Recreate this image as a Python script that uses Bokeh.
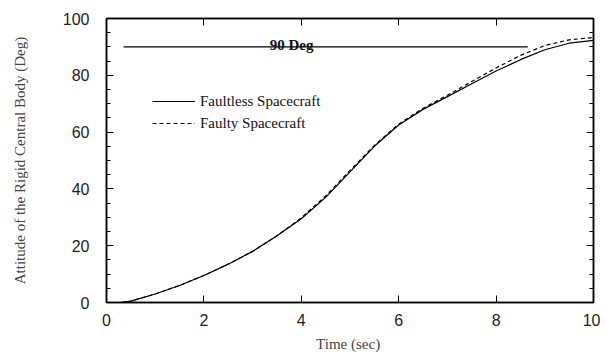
from bokeh.plotting import figure
from bokeh.models import (LinearAxis, FixedTicker, Range1d, Legend, LegendItem, Label)
from bokeh.embed import file_html
from bokeh.resources import INLINE

# Data
t_faultless = [0.3, 0.5, 1.0, 1.5, 2.0, 2.5, 3.0, 3.5, 4.0, 4.5, 5.0, 5.5, 6.0, 6.5, 7.0, 7.5, 8.0, 8.5, 9.0, 9.5, 10.0]
y_faultless = [0.0, 0.5, 3.0, 6.0, 9.5, 13.5, 18.0, 23.5, 29.5, 37.0, 46.0, 55.0, 62.5, 68.0, 72.5, 77.0, 81.5, 85.5, 89.0, 91.3, 92.3]
t_faulty = [0.3, 0.5, 1.0, 1.5, 2.0, 2.5, 3.0, 3.5, 4.0, 4.5, 5.0, 5.5, 6.0, 6.5, 7.0, 7.5, 8.0, 8.5, 9.0, 9.5, 10.0]
y_faulty = [0.0, 0.5, 3.0, 6.0, 9.5, 13.5, 18.0, 23.5, 29.8, 37.5, 46.5, 55.3, 62.8, 68.4, 73.0, 77.8, 82.6, 87.0, 90.5, 92.5, 93.3]
ref_x = [0.35, 8.65]
ref_y = [90, 90]
ref_label = "90 Deg"
x_ticks = [0, 2, 4, 6, 8, 10]
y_ticks = [0, 20, 40, 60, 80, 100]
y_minor = [5, 10, 15, 25, 30, 35, 45, 50, 55, 65, 70, 75, 85, 90, 95]

SERIF = "Liberation Serif"
SANS = "Liberation Sans"

p = figure(width=600, height=354, output_backend="svg", toolbar_location=None,
           x_range=Range1d(0, 10), y_range=Range1d(0, 100),
           min_border_left=106, min_border_right=7, min_border_top=18, min_border_bottom=48)
p.xgrid.visible = False
p.ygrid.visible = False
p.outline_line_color = "black"
p.outline_line_width = 1.5
p.background_fill_color = "white"
p.border_fill_color = "white"

def style(ax, labels=True):
    ax.major_tick_in = 7
    ax.major_tick_out = 0
    ax.minor_tick_in = 4
    ax.minor_tick_out = 0
    ax.axis_line_color = "black"
    ax.axis_line_width = 1.5
    ax.major_tick_line_color = "black"
    ax.minor_tick_line_color = "black"
    ax.major_label_text_font = SANS
    ax.major_label_text_font_size = "16px"
    ax.major_label_text_color = "#222222"
    ax.axis_label_text_font = SERIF
    ax.axis_label_text_font_style = "normal"
    ax.axis_label_text_font_size = "15px"
    if not labels:
        ax.major_label_text_alpha = 0

xa = p.xaxis[0]
xa.ticker = FixedTicker(ticks=x_ticks)
style(xa)
xa.minor_tick_in = 0
xa.major_label_standoff = 11
xa.axis_label = "Time  (sec)"
xa.axis_label_standoff = 7

ya = p.yaxis[0]
ya.ticker = FixedTicker(ticks=y_ticks, minor_ticks=y_minor)
style(ya)
ya.major_label_standoff = 17
ya.axis_label = "Attitude of the Rigid Central Body (Deg)"
ya.axis_label_standoff = 32

top = LinearAxis(ticker=FixedTicker(ticks=x_ticks))
style(top, labels=False)
top.minor_tick_in = 0
top.major_label_text_font_size = "1px"
p.add_layout(top, "above")

right = LinearAxis(ticker=FixedTicker(ticks=y_ticks, minor_ticks=y_minor))
style(right, labels=False)
right.major_label_text_font_size = "1px"
p.add_layout(right, "right")

r1 = p.line(t_faultless, y_faultless, line_color="black", line_width=1.2)
r2 = p.line(t_faulty, y_faulty, line_color="black", line_width=1.2, line_dash="4 3")
p.line(ref_x, ref_y, line_color="black", line_width=1.2)
p.add_layout(Label(x=3.8, y=90.6, text=ref_label, text_font=SERIF, text_font_style="bold",
                   text_font_size="15px", text_align="center", text_baseline="middle",
                   text_color="#111111"))

legend = Legend(items=[LegendItem(label="Faultless Spacecraft", renderers=[r1]),
                       LegendItem(label="Faulty Spacecraft", renderers=[r2])],
                location=(46, 169), glyph_width=43, glyph_height=20, label_height=20,
                label_standoff=5, spacing=2, padding=0, margin=0,
                border_line_alpha=0, background_fill_alpha=0,
                label_text_font=SERIF, label_text_font_size="15px", label_text_color="#111111")
p.add_layout(legend, "center")

open("out.html", "w").write(file_html(p, INLINE))
